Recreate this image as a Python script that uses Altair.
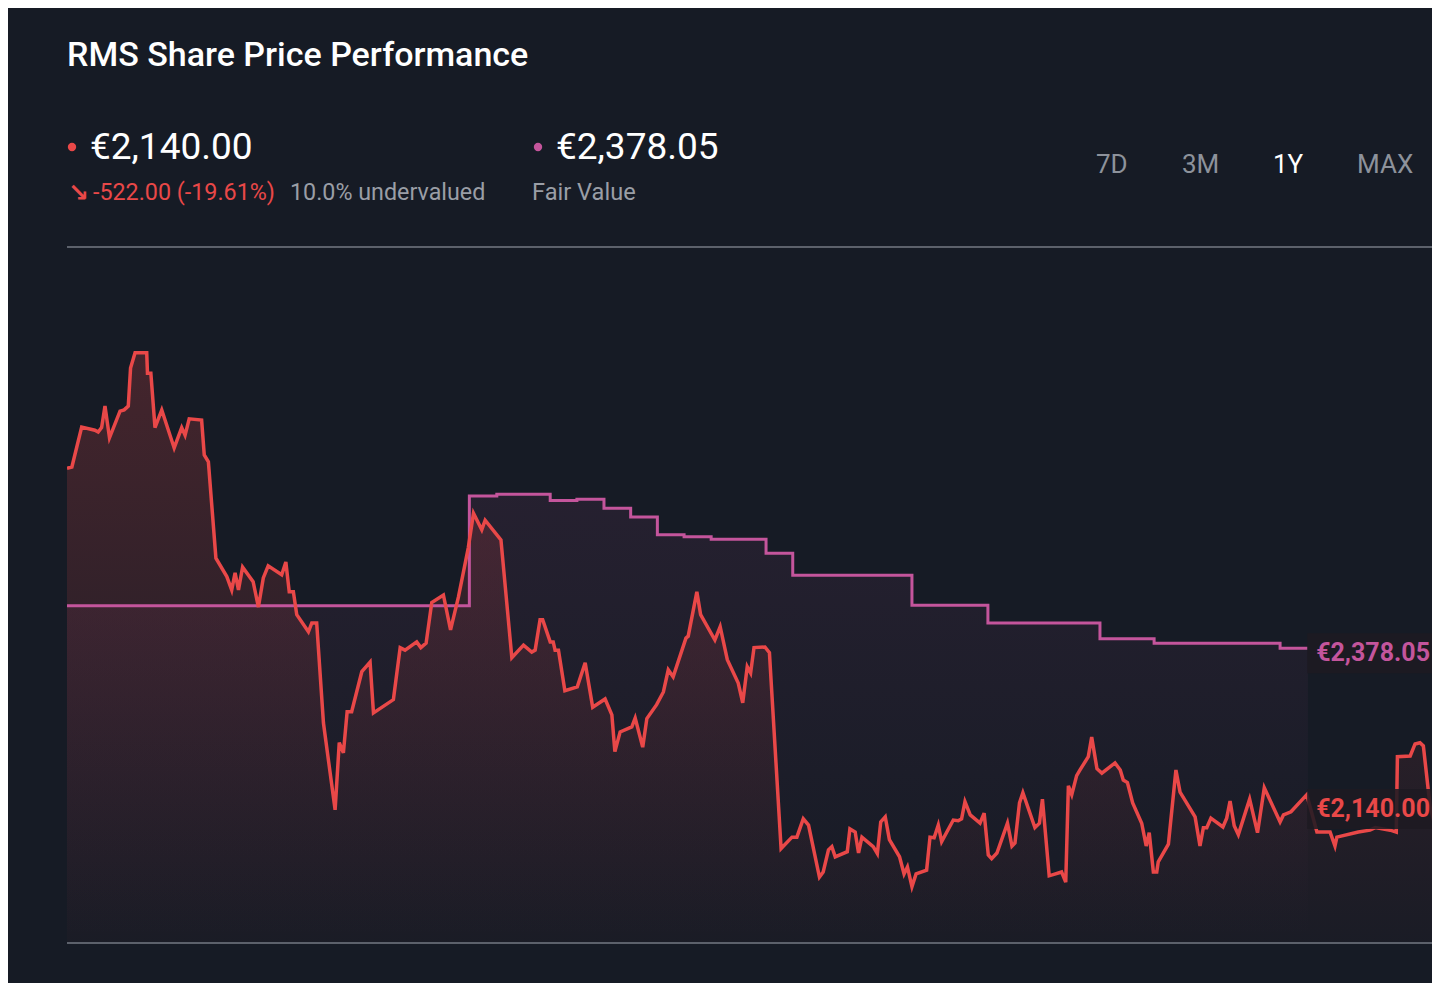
import altair as alt
import pandas as pd

# ---------------- data ----------------
price_days = [0, 1.3, 3.9, 7.4, 8.3, 9.2, 10.1, 11.3, 14.1, 15.2,
              16.3, 16.9, 18.1, 21.2, 21.4, 22.3, 23.4, 25.2, 28.5, 30.5,
              31.4, 32.5, 35.8, 36.5, 37.6, 39.6, 42.5, 43.8, 44.7, 45.6,
              46.7, 49.5, 50.9, 52.2, 53.5, 57.1, 58.2, 59.1, 60.2, 61.1,
              64.2, 65.1, 66.4, 68.2, 71.3, 72.4, 73.5, 74.5, 75.7, 78.4,
              80.6, 81.5, 86.8, 88.6, 89.9, 93.0, 94.1, 95.5, 97.0, 100.1,
              102.0, 104.1, 106.7, 108.1, 110.3, 111.2, 115.4, 118.3, 121.4, 123.6,
              124.5, 125.8, 126.5, 128.5, 129.3, 129.8, 130.7, 132.4, 135.7, 137.8,
              139.8, 143.1, 144.9, 145.7, 147.1, 150.2, 151.1, 153.1, 154.2, 156.8,
              158.6, 159.9, 161.2, 164.6, 165.2, 167.5, 168.5, 172.3, 173.7, 175.6,
              178.5, 179.7, 180.9, 181.8, 182.7, 185.6, 186.8, 189.9, 192.8, 194.1,
              195.8, 197.2, 200.1, 201.1, 202.5, 203.4, 204.3, 207.5, 208.2, 209.6,
              210.5, 211.4, 214.4, 215.5, 216.4, 217.6, 218.7, 221.4, 222.6, 223.5,
              224.7, 225.8, 228.6, 229.5, 230.6, 231.7, 232.6, 235.7, 237.0, 237.9,
              238.8, 240.2, 242.8, 243.9, 245.0, 245.9, 247.3, 250.1, 251.3, 252.1,
              253.3, 254.2, 257.4, 258.6, 259.4, 261.2, 264.5, 265.6, 266.3, 267.2,
              268.5, 269.4, 271.6, 272.5, 273.9, 275.2, 278.7, 280.1, 280.9, 282.0,
              283.4, 285.8, 287.0, 287.8, 288.9, 289.8, 290.2, 292.9, 294.9, 296.0,
              300.0, 301.3, 302.2, 303.1, 304.2, 307.4, 308.4, 309.3, 310.4, 311.5,
              314.5, 316.6, 318.4, 322.6, 323.5, 325.5, 329.7, 332.4, 335.9, 337.2,
              337.7, 343.4, 346.5, 347.9, 351.9, 353.5, 353.8, 357.2, 358.5, 359.8,
              360.7, 362.5, 364.3, 365.2]

price_values = [2662, 2664, 2727, 2722, 2719, 2726, 2760, 2710, 2752, 2754,
                2760, 2820, 2844, 2844, 2812, 2812, 2726, 2754, 2694, 2726,
                2714, 2740, 2738, 2683, 2672, 2520, 2491, 2470, 2497, 2470,
                2506, 2483, 2443, 2489, 2508, 2494, 2514, 2467, 2467, 2431,
                2404, 2418, 2418, 2260, 2123, 2229, 2213, 2278, 2278, 2341,
                2356, 2276, 2297, 2379, 2375, 2388, 2379, 2386, 2450, 2462,
                2407, 2459, 2536, 2591, 2565, 2580, 2549, 2363, 2383, 2372,
                2375, 2423, 2423, 2388, 2388, 2375, 2375, 2311, 2317, 2355,
                2285, 2298, 2273, 2215, 2246, 2254, 2268, 2222, 2267, 2289,
                2309, 2344, 2333, 2394, 2397, 2467, 2431, 2391, 2412, 2360,
                2323, 2292, 2349, 2339, 2379, 2380, 2371, 2062, 2080, 2080,
                2109, 2099, 2017, 2025, 2060, 2065, 2049, 2057, 2093, 2088,
                2055, 2080, 2065, 2054, 2104, 2112, 2076, 2049, 2022, 2033,
                2002, 2022, 2028, 2080, 2079, 2099, 2073, 2107, 2106, 2109,
                2136, 2115, 2102, 2118, 2052, 2046, 2055, 2102, 2066, 2071,
                2134, 2150, 2095, 2102, 2140, 2019, 2025, 2009, 2161, 2147,
                2177, 2186, 2207, 2238, 2188, 2181, 2197, 2186, 2170, 2166,
                2134, 2102, 2066, 2087, 2025, 2025, 2041, 2069, 2186, 2151,
                2112, 2066, 2095, 2095, 2110, 2096, 2110, 2137, 2098, 2084,
                2140, 2087, 2158, 2104, 2115, 2120, 2147, 2088, 2088, 2066,
                2080, 2088, 2091, 2095, 2091, 2088, 2207, 2208, 2227, 2229,
                2224, 2128, 2087, 2076]

fv_days = [0, 107.0, 114.3, 128.5, 135.6, 142.8, 149.9, 157.0, 164.1,
           171.3, 185.9, 193.0, 224.7, 244.9, 274.7, 289.1, 322.6, 330.0]
fv_values = [2445, 2618, 2621, 2611, 2613, 2599, 2585, 2557, 2554,
             2550, 2528, 2493, 2446, 2418, 2393, 2386, 2378.05, 2378.05]

y_domain = [1913, 3011]
x_domain = [0, 363]

last_price = 2140.00
fair_value = 2378.05
label_box_day = 329.8
label_text_day = 332.2

title_text = "RMS Share Price Performance"
price_text = "€2,140.00"
change_text = "-522.00 (-19.61%)"
valuation_text = "10.0% undervalued"
fv_text = "€2,378.05"
fv_caption = "Fair Value"
ranges = ["7D", "3M", "1Y", "MAX"]

# ---------------- styling ----------------
BG = "#161b25"
RED = "#e94848"
PINK = "#c4559c"
GREY = "#9a9ea6"
RULE = "#5c616b"
FONT = "Roboto"

W, H = 1365, 696

price_df = pd.DataFrame({"day": price_days, "price": price_values})
fv_df = pd.DataFrame({"day": fv_days, "fv": fv_values})

xs = alt.Scale(domain=x_domain, nice=False, zero=False)
ys = alt.Scale(domain=y_domain, nice=False, zero=False)

X = alt.X("day:Q", scale=xs, axis=None)

red_grad = alt.Gradient(
    gradient="linear",
    stops=[alt.GradientStop(color="rgba(233,72,72,0.22)", offset=0),
           alt.GradientStop(color="rgba(233,72,72,0.02)", offset=1)],
    x1=1, x2=1, y1=0, y2=1)
pink_grad = alt.Gradient(
    gradient="linear",
    stops=[alt.GradientStop(color="rgba(196,85,156,0.09)", offset=0),
           alt.GradientStop(color="rgba(196,85,156,0.0)", offset=1)],
    x1=1, x2=1, y1=0, y2=1)

fv_area = alt.Chart(fv_df).mark_area(interpolate="step-after", fill=pink_grad, clip=True).encode(
    x=X, y=alt.Y("fv:Q", scale=ys, axis=None), y2=alt.datum(y_domain[0]))
price_area = alt.Chart(price_df).mark_area(fill=red_grad, clip=True).encode(
    x=X, y=alt.Y("price:Q", scale=ys, axis=None), y2=alt.datum(y_domain[0]))
fv_line = alt.Chart(fv_df).mark_line(interpolate="step-after", color=PINK, strokeWidth=3, clip=True).encode(
    x=X, y=alt.Y("fv:Q", scale=ys, axis=None))
price_line = alt.Chart(price_df).mark_line(color=RED, strokeWidth=3.5, clip=True).encode(
    x=X, y=alt.Y("price:Q", scale=ys, axis=None))

one = pd.DataFrame({"k": [0]})
top_rule = alt.Chart(one).mark_rule(color=RULE, strokeWidth=2).encode(
    x=alt.value(0), x2=alt.value(W), y=alt.value(0))
bottom_rule = alt.Chart(one).mark_rule(color=RULE, strokeWidth=2).encode(
    x=alt.value(0), x2=alt.value(W), y=alt.value(H))


def end_label(value, text, color, shift):
    df = pd.DataFrame({"d0": [label_box_day], "d1": [x_domain[1] + 20],
                       "dt": [label_text_day], "v": [value], "t": [text]})
    box = alt.Chart(df).mark_rect(fill="#1e1a22", opacity=0.88, yOffset=shift - 20, y2Offset=shift + 20,
                                  clip=True).encode(
        x=alt.X("d0:Q", scale=xs, axis=None), x2="d1:Q",
        y=alt.Y("v:Q", scale=ys, axis=None), y2="v:Q")
    txt = alt.Chart(df).mark_text(align="left", baseline="middle", dy=shift, font=FONT, fontSize=25,
                                  fontWeight="bold", color=color, clip=True).encode(
        x=alt.X("dt:Q", scale=xs, axis=None), y=alt.Y("v:Q", scale=ys, axis=None), text="t:N")
    return box + txt


def label(text, x, y, color, size, weight="normal", font=FONT):
    return alt.Chart(pd.DataFrame({"t": [text]})).mark_text(
        align="left", baseline="alphabetic", color=color, fontSize=size,
        fontWeight=weight, font=font).encode(x=alt.value(x), y=alt.value(y), text="t:N")


def dot(x, y, color):
    return alt.Chart(one).mark_circle(color=color, size=70, opacity=1).encode(
        x=alt.value(x), y=alt.value(y))


header = [
    label(title_text, 0, -181, "#ffffff", 34, 500),
    dot(5, -100, RED),
    label(price_text, 23, -88, "#ffffff", 37),
    label("↘", 1, -46, RED, 25, "bold", "DejaVu Sans"),
    label(change_text, 26, -47, RED, 23.3),
    label(valuation_text, 223, -47, GREY, 23.3),
    dot(471, -100, PINK),
    label(fv_text, 489, -88, "#ffffff", 37),
    label(fv_caption, 465, -47, GREY, 23.6),
]
range_x = [1029, 1115, 1206, 1290]
for r, rx in zip(ranges, range_x):
    header.append(label(r, rx, -74, "#ffffff" if r == "1Y" else "#8d929b", 26))

chart = alt.layer(
    fv_area, price_area, fv_line, price_line,
    end_label(fair_value, fv_text, PINK, 5),
    end_label(last_price, price_text, RED, 10),
    top_rule, bottom_rule,
    *header,
).properties(
    width=W, height=H,
    autosize=alt.AutoSizeParams(type="none"),
    padding={"left": 59, "top": 239, "right": 0, "bottom": 40},
    background=BG,
).configure_view(stroke=None)

chart.save("out.html", embed_options={"renderer": "svg", "actions": False})
